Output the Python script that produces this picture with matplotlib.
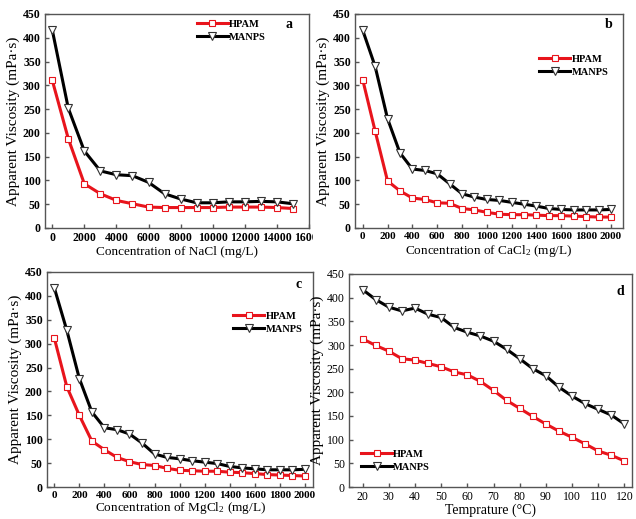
import matplotlib
matplotlib.use('Agg')
import matplotlib.pyplot as plt
from matplotlib.transforms import Bbox, TransformedBbox

plt.rcParams['font.family'] = ['Liberation Serif', 'DejaVu Serif']
plt.rcParams['mathtext.default'] = 'regular'

# Panel a: NaCl
nacl_x = [0, 1000, 2000, 3000, 4000, 5000, 6000, 7000, 8000, 9000, 10000,
          11000, 12000, 13000, 14000, 15000]
nacl_hpam = [311, 188, 93, 72, 58, 51, 44, 43, 43, 43, 43, 44, 44, 44, 43, 41]
nacl_manps = [417, 252, 162, 120, 112, 110, 96, 72, 61, 53, 53, 55, 55, 56, 55, 51]

# Panel b: CaCl2
cacl_x = list(range(0, 2001, 100))
cacl_hpam = [312, 204, 99, 78, 63, 60, 53, 52, 41, 38, 33, 29, 28, 28, 27,
             26, 26, 25, 24, 23, 23]
cacl_manps = [416, 340, 230, 158, 124, 121, 114, 93, 72, 65, 60, 58, 54, 50,
              46, 41, 39, 38, 38, 38, 39]

# Panel c: MgCl2
mgcl_x = list(range(0, 2001, 100))
mgcl_hpam = [312, 210, 150, 96, 78, 62, 53, 47, 45, 39, 35, 34, 33, 33, 31,
             30, 28, 26, 25, 24, 23]
mgcl_manps = [417, 328, 227, 157, 124, 120, 111, 92, 69, 62, 59, 55, 52, 49,
              43, 40, 38, 36, 36, 36, 37]

# Panel d: temperature
temp_x = list(range(20, 121, 5))
temp_hpam = [313, 299, 287, 271, 268, 261, 254, 243, 237, 223, 204, 183, 166,
             149, 133, 118, 105, 91, 76, 67, 55]
temp_manps = [417, 396, 380, 372, 378, 365, 358, 337, 327, 319, 308, 291, 271,
              250, 235, 211, 192, 176, 164, 152, 133]

W, H = 636, 519
fig = plt.figure(figsize=(W / 100, H / 100), dpi=100)


def add_axes_px(left, right, top, bottom):
    return fig.add_axes([left / W, 1 - bottom / H, (right - left) / W,
                         (bottom - top) / H])


def draw_panel(ax, x, hpam, manps, letter, leg_xy):
    ax.plot(x, hpam, '-s', color='#e8141c', lw=2.2, ms=4.2, mfc='white',
            mec='#e8141c', mew=0.8, label='HPAM', zorder=3)
    ax.plot(x, manps, '-v', color='black', lw=2.2, ms=5.2, mfc='white',
            mec='#333333', mew=0.8, label='MANPS', zorder=3)
    ax.set_ylim(0, 450)
    ax.set_yticks(range(0, 451, 50))
    for s in ax.spines.values():
        s.set_color('#555555')
        s.set_linewidth(1.0)
    ax.tick_params(direction='in', length=3, width=1, color='#555555',
                   labelsize=8.5, pad=3)
    ax.set_ylabel('Apparent Viscosity (mPa·s)', fontsize=11, labelpad=2)
    ax.legend(loc='upper left', bbox_to_anchor=leg_xy, frameon=False,
              borderpad=0, borderaxespad=0, handlelength=3,
              handletextpad=0.1, labelspacing=0.35,
              prop={'weight': 'bold', 'size': 7.5})
    ax.text(*letter, transform=ax.transAxes, ha='center', va='center',
            fontsize=10, fontweight='bold')


# a
ax_a = add_axes_px(45, 309, 14, 228)
draw_panel(ax_a, nacl_x, nacl_hpam, nacl_manps, (0.925, 0.95, 'a'),
           (0.574, 0.975))
ax_a.set_xlim(-450, 16000)
ax_a.set_xticks(range(0, 16001, 2000))
ax_a.set_xlabel('Concentration of NaCl (mg/L)', fontsize=9.5, labelpad=1)

# b
ax_b = add_axes_px(355, 623, 14, 228)
draw_panel(ax_b, cacl_x, cacl_hpam, cacl_manps, (0.948, 0.95, 'b'),
           (0.687, 0.81))
ax_b.set_xlim(-62, 2097)
ax_b.set_xticks(range(0, 2001, 200))
ax_b.set_xlabel('Concentration of CaCl$_2$ (mg/L)', fontsize=9.5, labelpad=1)

# c
ax_c = add_axes_px(47, 313, 272, 487)
draw_panel(ax_c, mgcl_x, mgcl_hpam, mgcl_manps, (0.947, 0.94, 'c'),
           (0.70, 0.815))
ax_c.set_xlim(-58, 2064)
ax_c.set_xticks(range(0, 2001, 200))
ax_c.set_xlabel('Concentration of MgCl$_2$ (mg/L)', fontsize=9.5, labelpad=0)

# d
ax_d = add_axes_px(349, 632, 274, 487)
draw_panel(ax_d, temp_x, temp_hpam, temp_manps, (0.958, 0.92, 'd'),
           (0.042, 0.175))
ax_d.set_xlim(14.8, 122.9)
ax_d.set_xticks(range(20, 121, 10))
ax_d.set_xlabel('Temprature (°C)', fontsize=10, labelpad=0)

# Tick label weights (bold in a-c, regular in d)
fig.canvas.draw()
for ax, bold in [(ax_a, True), (ax_b, True), (ax_c, True), (ax_d, False)]:
    for lbl in ax.get_xticklabels() + ax.get_yticklabels():
        lbl.set_fontweight('bold' if bold else 'normal')
ax_c.tick_params(axis='x', labelsize=8)
ax_b.tick_params(axis='x', labelsize=8)

# The last NaCl tick label is cut at the panel edge in the original
clip = TransformedBbox(Bbox([[0, 0], [313 / W, 1]]), fig.transFigure)
last = ax_a.get_xticklabels()[-1]
last.set_clip_on(True)
last.set_clip_box(clip)

fig.savefig('out.png', dpi=100)
